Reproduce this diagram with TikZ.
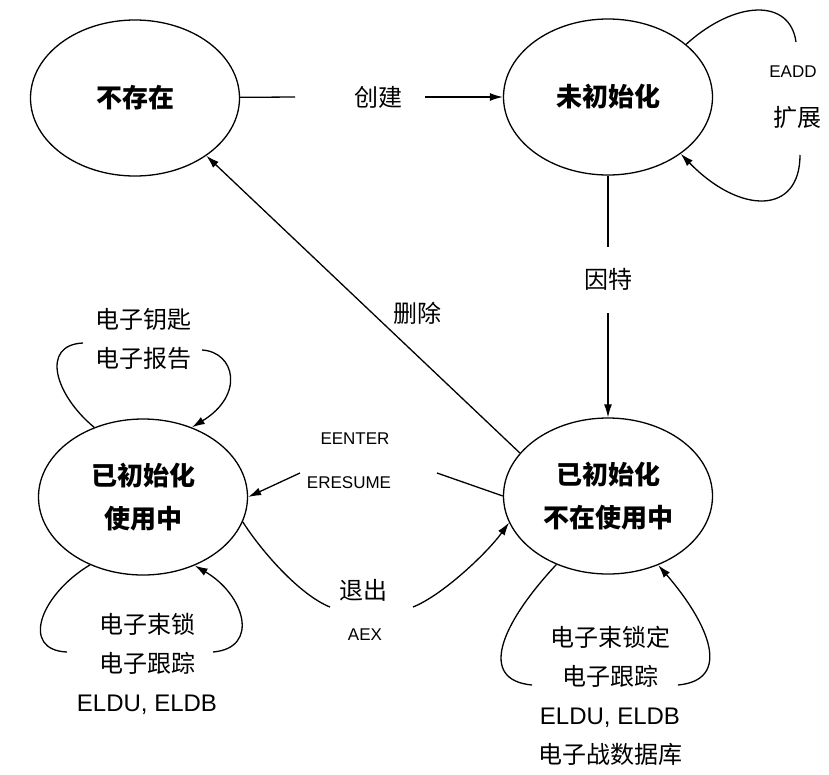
\documentclass[tikz,border=0pt]{standalone}
\usepackage{fontspec}
\setmainfont{Liberation Sans}
\newfontfamily\cjk{Noto Sans CJK SC}
\usepackage{tikz}
\usetikzlibrary{positioning,shapes.geometric,arrows.meta}

\begin{document}
\begin{tikzpicture}[x=1pt,y=-1pt,>={Latex[length=13pt,width=8pt]},line width=1.3pt,
  state/.style={ellipse,draw,minimum width=209pt,minimum height=156pt,inner sep=0pt,align=center,font=\cjk\bfseries\fontsize{26}{43}\selectfont},
  tag/.style={inner sep=2pt,align=center,font=\cjk\fontsize{24}{39}\selectfont},
  op/.style={inner sep=2pt,font=\fontsize{17}{17}\selectfont}]
\useasboundingbox (0,0) rectangle (829,774);
\path
(135,98)  node[state] (absent) {不存在}
(608,97)  node[state] (uninit) {未初始化}
(143,497) node[state] (inuse)  {已初始化\\使用中}
(608,496) node[state] (idle)   {已初始化\\不在使用中};
\path
(378,97)  node[tag] (create) {创建}
(793,72)  node[op]  (eadd)   {EADD}
(797,117) node[tag] (extend) {扩展}
(143,339) node[tag] (ekey)   {电子钥匙\\电子报告}
(355,439) node[op]  (eenter) {EENTER}
(349,483) node[op]  (eresume) {ERESUME}
(363,590) node[tag] (quit)   {退出}
(365,635) node[op]  (aex)    {AEX}
(147,664) node[tag] (elock)  {电子束锁\\电子跟踪\\{\rmfamily ELDU, ELDB}}
(610,696) node[tag] (etrack) {电子束锁定\\电子跟踪\\{\rmfamily ELDU, ELDB}\\电子战数据库};
\coordinate (create-l) at (295,97);
\coordinate (create-r) at (425,97);
\coordinate (add-t) at (796,42);
\coordinate (add-b) at (800,155);
\coordinate (key-l) at (83,343);
\coordinate (key-r) at (202,350);
\coordinate (enter-r) at (437,473);
\coordinate (enter-l) at (300,473);
\coordinate (exit-l) at (330,607);
\coordinate (exit-r) at (413,607);
\coordinate (lock-l) at (67,652);
\coordinate (lock-r) at (213,652);
\coordinate (track-l) at (532,685);
\coordinate (track-r) at (678,685);
\draw (absent)--(create-l);
\draw[->] (create-r)--(uninit);
\draw (uninit.34) .. controls (735,0) and (790,-2) .. (add-t);
\draw[->] (add-b) .. controls (800,215) and (740,215) .. (uninit.322);
\draw[->] (uninit)--(idle) node[pos=.43,tag,fill=white,inner ysep=22pt]{因特};
\draw[->] (idle.154)--(absent.321) node[pos=.47,right=18pt,tag]{删除};
\draw (inuse.125) .. controls (55,395) and (40,345) .. (key-l);
\draw[->] (key-r) .. controls (235,352) and (245,395) .. (inuse.55);
\draw (idle.west)--(enter-r);
\draw[->] (enter-l)--(inuse.east);
\draw (inuse.346) .. controls (262,552) and (300,595) .. (exit-l);
\draw[->] (exit-r) .. controls (443,595) and (488,552) .. (idle.195);
\draw (inuse.232) .. controls (40,595) and (20,650) .. (lock-l);
\draw[->] (lock-r) .. controls (260,648) and (245,595) .. (inuse.307);
\draw (idle.233) .. controls (500,625) and (478,680) .. (track-l);
\draw[->] (track-r) .. controls (732,680) and (710,625) .. (idle.306);
\end{tikzpicture}
\end{document}
